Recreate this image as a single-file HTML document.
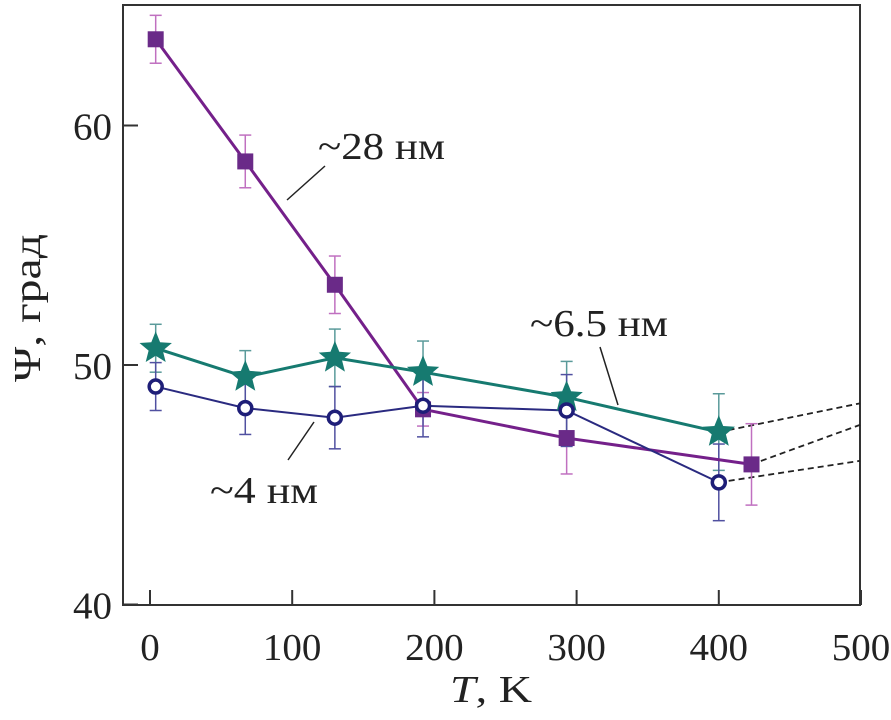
<!DOCTYPE html>
<html><head><meta charset="utf-8"><style>
html,body{margin:0;padding:0;background:#fff;}
svg text{font-family:"Liberation Serif",serif;fill:#222;}
</style></head><body>
<svg id="chart" width="891" height="715" xmlns="http://www.w3.org/2000/svg">
<rect x="123" y="5" width="737" height="600" fill="none" stroke="#333" stroke-width="2"/>
<g id="axes"></g>
<g id="series"></g>
<text transform="translate(40,308) rotate(-90)" text-anchor="middle" font-size="38" textLength="148" lengthAdjust="spacingAndGlyphs">Ψ, град</text>
<text x="450" y="702" font-size="38" textLength="82" lengthAdjust="spacingAndGlyphs"><tspan font-style="italic">T</tspan>, K</text>
<text x="318" y="159" font-size="38" textLength="127" lengthAdjust="spacingAndGlyphs">~28 нм</text>
<line x1="287" y1="200" x2="325" y2="166" stroke="#222" stroke-width="1.5"/>
<text x="530" y="336" font-size="38" textLength="138" lengthAdjust="spacingAndGlyphs">~6.5 нм</text>
<line x1="600" y1="347" x2="618" y2="405" stroke="#222" stroke-width="1.5"/>
<text x="210" y="503" font-size="38" textLength="108" lengthAdjust="spacingAndGlyphs">~4 нм</text>
<line x1="288" y1="460" x2="314" y2="422" stroke="#222" stroke-width="1.5"/>
</svg>
<script>
const xTicks=[0,100,200,300,400,500];
const yTicks=[40,50,60];
const tSquares=[4,67,130,192,293,423];
const vSquares=[63.6,58.5,53.35,48.15,46.95,45.85];
const eSquares=[1.0,1.1,1.2,0.7,1.5,1.7];
const tStars=[4,67,130,192,293,400];
const vStars=[50.7,49.5,50.3,49.7,48.65,47.2];
const eStars=[1.0,1.1,1.2,1.3,1.5,1.6];
const tCircles=[4,67,130,192,293,400];
const vCircles=[49.1,48.2,47.8,48.3,48.1,45.1];
const eCircles=[1.0,1.1,1.3,1.3,1.5,1.6];
const NS="http://www.w3.org/2000/svg";
const X=t=>150+t*1.422;
const Y=v=>365-(v-50)*23.95;
const ax=document.getElementById('axes'), sg=document.getElementById('series');
function mk(tag,attrs,parent){const e=document.createElementNS(NS,tag);for(const k in attrs)e.setAttribute(k,attrs[k]);parent.appendChild(e);return e;}
xTicks.forEach(t=>{
  const l=mk('line',{x1:X(t),x2:X(t),y1:605,y2:590,stroke:'#333','stroke-width':2},ax);
  
  
  const s=String(t);
  const tx=mk('text',{x:X(t),y:660,'text-anchor':'middle','font-size':38,textLength:s.length*19.5,lengthAdjust:'spacingAndGlyphs'},ax);tx.textContent=s;
  
  
});
yTicks.forEach(v=>{
  const l=mk('line',{x1:123,x2:138,y1:Y(v),y2:Y(v),stroke:'#333','stroke-width':2},ax);
  
  
  const s=String(v);
  const tx=mk('text',{x:112,y:Y(v)+14,'text-anchor':'end','font-size':38,textLength:s.length*19.5,lengthAdjust:'spacingAndGlyphs'},ax);tx.textContent=s;
  
  
});
[[tStars[5],vStars[5],48.4],[tSquares[5],vSquares[5],47.5],[tCircles[5],vCircles[5],46.0]].forEach(d=>{
  const l=mk('line',{x1:X(d[0]),y1:Y(d[1]),x2:860,y2:Y(d[2]),stroke:'#222','stroke-width':1.8,'stroke-dasharray':'6,4'},sg);
  
  
});
function errs(ts,vs,es,col,name){
  ts.forEach((t,i)=>{
    const g=mk('g',{stroke:col,'stroke-width':1.5},sg);
    
    
    mk('line',{x1:X(t),x2:X(t),y1:Y(vs[i]+es[i]),y2:Y(vs[i]-es[i])},g);
    mk('line',{x1:X(t)-6,x2:X(t)+6,y1:Y(vs[i]+es[i]),y2:Y(vs[i]+es[i])},g);
    mk('line',{x1:X(t)-6,x2:X(t)+6,y1:Y(vs[i]-es[i]),y2:Y(vs[i]-es[i])},g);
  });
}
function line(ts,vs,col,w,name){
  const p=mk('polyline',{points:ts.map((t,i)=>X(t)+','+Y(vs[i])).join(' '),fill:'none',stroke:col,'stroke-width':w},sg);
  
  
}
errs(tSquares,vSquares,eSquares,'#c070c0','squares');
errs(tStars,vStars,eStars,'#5a9a9a','stars');
errs(tCircles,vCircles,eCircles,'#5050a0','circles');
line(tSquares,vSquares,'#74208a',3,'series-28nm');
line(tStars,vStars,'#167a70',3,'series-6-5nm');
line(tCircles,vCircles,'#2a2a80',2,'series-4nm');
tSquares.forEach((t,i)=>{
  const r=mk('rect',{x:X(t)-8,y:Y(vSquares[i])-8,width:16,height:16,fill:'#6a2a88'},sg);
  
  
});
function star(cx,cy,R,r){let p=[];for(let k=0;k<10;k++){const a=-Math.PI/2+k*Math.PI/5;const rr=k%2?r:R;p.push((cx+rr*Math.cos(a)).toFixed(1)+','+(cy+rr*Math.sin(a)).toFixed(1));}return p.join(' ');}
tStars.forEach((t,i)=>{
  const s=mk('polygon',{points:star(X(t),Y(vStars[i]),17,7.5),fill:'#167a70'},sg);
  
  
});
tCircles.forEach((t,i)=>{
  const c=mk('circle',{cx:X(t),cy:Y(vCircles[i]),r:6.5,fill:'#fff',stroke:'#1e1e78','stroke-width':3.5},sg);
  
  
});
</script>
</body></html>
